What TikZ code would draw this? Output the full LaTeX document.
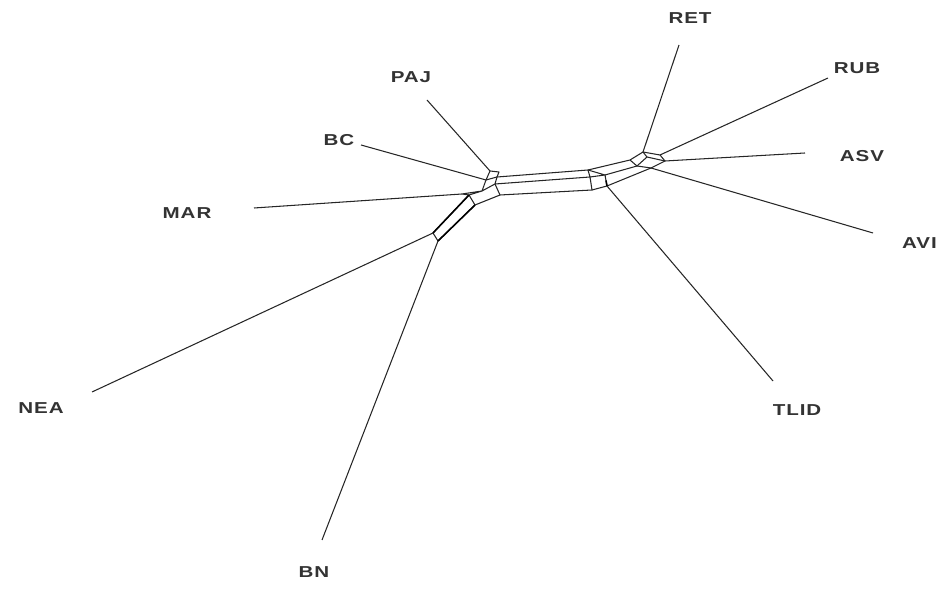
\documentclass[tikz,border=0pt]{standalone}
\usepackage{fontspec}
\newfontfamily\labfont{Liberation Sans}[FakeStretch=1.3,LetterSpace=6]
\usetikzlibrary{calc}
\tikzset{
  taxon/.style={font=\labfont\fontsize{9}{10}\selectfont\bfseries, text=black!80, inner sep=1pt},
  split/.style={black!85, line width=0.6pt, line join=round},
  heavy/.style={black, line width=0.9pt}
}
\begin{document}
\begin{tikzpicture}[x=0.02cm,y=-0.02cm]
\useasboundingbox (0,0) rectangle (940,590);
% leaf labels
\node[taxon] (ret) at (690,18) {RET};
\node[taxon] (rub) at (857,68) {RUB};
\node[taxon] (asv) at (862,156) {ASV};
\node[taxon,anchor=west] (avi) at (900,243) {AVI};
\node[taxon] (tlid) at (797,410) {TLID};
\node[taxon] (bn) at (314,572) {BN};
\node[taxon] (nea) at (41,408) {NEA};
\node[taxon] (mar) at (187,213) {MAR};
\node[taxon] (bc) at (339,140) {BC};
\node[taxon] (paj) at (411,77) {PAJ};
% free ends of pendant edges
\coordinate (eret) at (679,45);
\coordinate (erub) at (828,78);
\coordinate (easv) at (805,153);
\coordinate (eavi) at (873,233);
\coordinate (etlid) at (773,381);
\coordinate (ebn) at (322,540);
\coordinate (enea) at (92,392);
\coordinate (emar) at (254,208);
\coordinate (ebc) at (361,145);
\coordinate (epaj) at (427,100);
% left cluster
\coordinate (l1) at (490,171);
\coordinate (l2) at (486,180);
\coordinate (l3) at (482,191);
\coordinate (l4) at (497,177);
\coordinate (l5) at (495,184);
\coordinate (l6) at (500,195);
\coordinate (l7) at (499,172);
\coordinate (l8) at (469,195);
\coordinate (l9) at (475,205);
\coordinate (l10) at (462,194);
\coordinate (l11) at (433,233);
\coordinate (l12) at (438,241);
% right cluster
\coordinate (r1) at (588,170);
\coordinate (r2) at (590,177);
\coordinate (r3) at (592,190);
\coordinate (r4) at (607,186);
\coordinate (r5) at (605,175);
\coordinate (r6) at (630,160);
\coordinate (r7) at (643,152);
\coordinate (r8) at (660,155);
\coordinate (r9) at (665,161);
\coordinate (r10) at (651,168);
\coordinate (r11) at (637,166);
\coordinate (r12) at (647,157);
% pendant edges
\draw[split] (eret) -- (r7);
\draw[split] (erub) -- (r8);
\draw[split] (easv) -- (r9);
\draw[split] (eavi) -- (r10);
\draw[split] (etlid) -- (r4);
\draw[split] (ebn) -- (l12);
\draw[split] (enea) -- (l11);
\draw[split] (emar) -- (l10);
\draw[split] (ebc) -- (l2);
\draw[split] (epaj) -- (l1);
% central splits
\draw[split] (l4) -- (r1) -- (r2) -- (l5) -- cycle;
\draw[split] (l5) -- (l6) -- (r3) -- (r2);
\draw[split] (l1) -- (l7) -- (l4) -- (l2) -- (l1);
\draw[split] (l2) -- (l3) -- (l5);
\draw[split] (l10) -- (l3) -- (l8) -- (l10);
\draw[split] (l8) -- (l11) -- (l12) -- (l9) -- (l8);
\draw[split] (l9) -- (l6);
\draw[split] (r1) -- (r5) -- (r2);
\draw[split] (r3) -- (r4) -- (r5);
\draw[split] (r1) -- (r6) -- (r7) -- (r8) -- (r9) -- (r10) -- (r11) -- (r6);
\draw[split] (r7) -- (r12) -- (r9);
\draw[split] (r12) -- (r11);
\draw[split] (r5) -- (r11);
\draw[split] (r4) -- (r10);
\draw[heavy] (l8) -- (l11);
\draw[heavy] (l9) -- (l12);
\draw[heavy] (r4) -- ($(r4)!0.5!(r5)$);
\end{tikzpicture}
\end{document}
